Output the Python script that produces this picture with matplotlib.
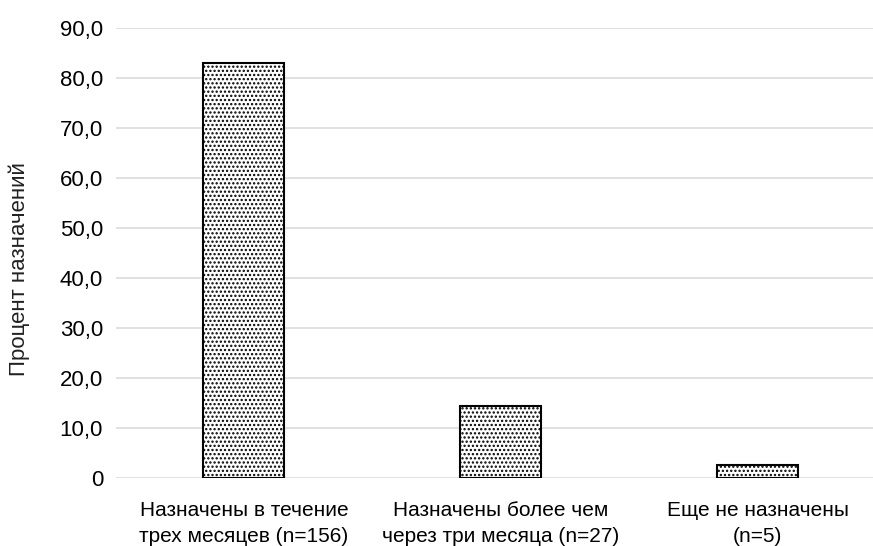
import matplotlib
matplotlib.use('Agg')
import matplotlib.pyplot as plt
from matplotlib.ticker import FuncFormatter

plt.rcParams['font.family'] = ['Liberation Sans', 'DejaVu Sans']
plt.rcParams['hatch.linewidth'] = 1.1

categories = ['Назначены в течение\nтрех месяцев (n=156)',
              'Назначены более чем\nчерез три месяца (n=27)',
              'Еще не назначены\n(n=5)']
percent = [83.0, 14.4, 2.7]
yticks = [0, 10, 20, 30, 40, 50, 60, 70, 80, 90]


def fmt(v, pos):
    if v == 0:
        return '0'
    return ('%.1f' % v).replace('.', ',')


W, H = 873, 546
fig = plt.figure(figsize=(W / 100, H / 100), dpi=100)
ax = fig.add_axes([115.5 / W, 67.7 / H, 770.5 / W, 450.6 / H])

x = range(len(categories))
ax.bar(x, percent, width=0.315, color='white', edgecolor='black',
       linewidth=1.5, hatch='....', zorder=3)

ax.set_xlim(-0.5, 2.5)
ax.set_ylim(0, 90)
ax.set_yticks(yticks)
ax.yaxis.set_major_formatter(FuncFormatter(fmt))
ax.set_xticks(list(x))
ax.set_xticklabels(categories, linespacing=1.5)
ax.grid(axis='y', color='#d9d9d9', linewidth=1.1, zorder=0)
ax.set_axisbelow(True)
for s in ax.spines.values():
    s.set_visible(False)
ax.tick_params(axis='both', length=0, colors='black')
ax.tick_params(axis='y', pad=9, labelsize=16)
ax.tick_params(axis='x', pad=16, labelsize=15)

fig.text(19 / W, 1 - 269 / H, 'Процент назначений', rotation=90,
         fontsize=16, ha='center', va='center', color='#222222')

plt.savefig('out.png', dpi=100)
